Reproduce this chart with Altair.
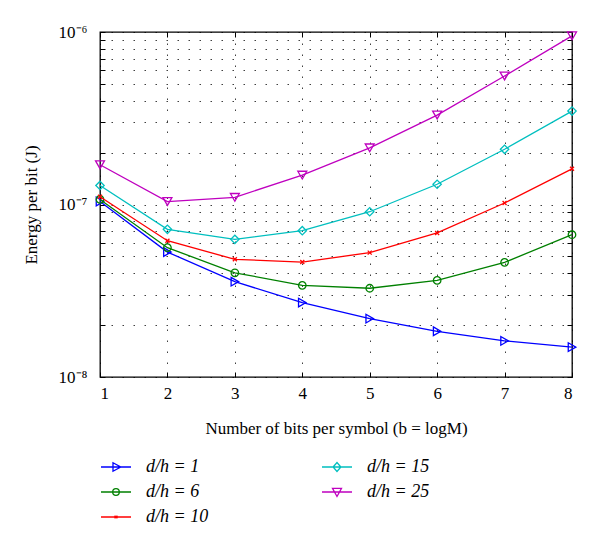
import altair as alt
import pandas as pd

# ---- data ----
bits = [1, 2, 3, 4, 5, 6, 7, 8]
series_names = ["d/h = 1", "d/h = 6", "d/h = 10", "d/h = 15", "d/h = 25"]
e_dh1 = [1.04e-7, 5.30e-8, 3.57e-8, 2.70e-8, 2.18e-8, 1.84e-8, 1.62e-8, 1.49e-8]
e_dh6 = [1.07e-7, 5.62e-8, 4.02e-8, 3.40e-8, 3.27e-8, 3.63e-8, 4.62e-8, 6.68e-8]
e_dh10 = [1.11e-7, 6.17e-8, 4.81e-8, 4.64e-8, 5.26e-8, 6.84e-8, 1.02e-7, 1.61e-7]
e_dh15 = [1.29e-7, 7.18e-8, 6.28e-8, 7.05e-8, 9.08e-8, 1.31e-7, 2.09e-7, 3.48e-7]
e_dh25 = [1.70e-7, 1.04e-7, 1.10e-7, 1.48e-7, 2.13e-7, 3.30e-7, 5.56e-7, 9.50e-7]
y_ticks = [k * 10.0 ** e for e in (-8, -7) for k in range(1, 10)] + [1e-6]

values = [e_dh1, e_dh6, e_dh10, e_dh15, e_dh25]
rows = []
for name, vals in zip(series_names, values):
    for b, v in zip(bits, vals):
        rows.append({"series": name, "bits": b, "energy": v})
df = pd.DataFrame(rows)

# ---- styling ----
FONT = "Liberation Serif"
colors = {
    "d/h = 1": "#0000FF",
    "d/h = 6": "#008000",
    "d/h = 10": "#FF0000",
    "d/h = 15": "#00BFBF",
    "d/h = 25": "#BF00BF",
}
markers = {
    "d/h = 1": ("triangle-right", 75),
    "d/h = 6": ("circle", 56),
    "d/h = 10": ("M-1,-1L1,1M-1,1L1,-1", 16),
    "d/h = 15": ("diamond", 70),
    "d/h = 25": ("triangle-down", 80),
}
legend_paths = {
    "d/h = 1": "M-1,0L1,0M-0.2,-0.28L0.32,0L-0.2,0.28Z",
    "d/h = 6": "M-1,0L1,0M-0.22,0A0.22,0.22 0 1,1 0.22,0A0.22,0.22 0 1,1 -0.22,0Z",
    "d/h = 10": "M-1,0L1,0M-0.09,-0.09L0.09,0.09M-0.09,0.09L0.09,-0.09",
    "d/h = 15": "M-1,0L1,0M-0.26,0L0,-0.3L0.26,0L0,0.3Z",
    "d/h = 25": "M-1,0L1,0M-0.3,-0.24L0.3,-0.24L0,0.3Z",
}
legend_order = series_names  # legend fills column by column

color_scale = alt.Scale(domain=legend_order, range=[colors[s] for s in legend_order])
shape_scale = alt.Scale(domain=legend_order, range=[legend_paths[s] for s in legend_order])
x_scale = alt.Scale(domain=[1, 8], nice=False, zero=False)
y_scale = alt.Scale(type="log", domain=[1e-8, 1e-6], nice=False)

grid_style = dict(gridDash=[1.5, 9.5], gridColor="#000000", gridOpacity=0.75, gridWidth=1)
tick_style = dict(ticks=True, tickSize=5, tickColor="#000000", tickWidth=1, offset=-5, domain=False)

x_main = alt.X(
    "bits:Q",
    scale=x_scale,
    axis=alt.Axis(
        values=bits,
        format="d",
        title="Number of bits per symbol (b = logM)",
        labelPadding=8,
        titlePadding=19,
        **tick_style,
        **grid_style,
    ),
)
y_main = alt.Y(
    "energy:Q",
    scale=y_scale,
    axis=alt.Axis(
        values=y_ticks,
        labelExpr=(
            "abs(datum.value - 1e-6) < 1e-12 ? '10⁻⁶' : "
            "(abs(datum.value - 1e-7) < 1e-13 ? '10⁻⁷' : "
            "(abs(datum.value - 1e-8) < 1e-14 ? '10⁻⁸' : ''))"
        ),
        labelOverlap=False,
        title="Energy per bit (J)",
        labelPadding=13,
        titlePadding=18,
        **tick_style,
        **grid_style,
    ),
)
# inner ticks on the top and right edges of the box
x_top = alt.X(
    "bits:Q", scale=x_scale,
    axis=alt.Axis(orient="top", values=bits, labels=False, title=None, grid=False, **tick_style),
)
y_right = alt.Y(
    "energy:Q", scale=y_scale,
    axis=alt.Axis(orient="right", values=y_ticks, labels=False, title=None, grid=False, **tick_style),
)

base = alt.Chart(df)

layers = []
for i, name in enumerate(series_names):
    shp, sz = markers[name]
    sub = base.transform_filter(alt.datum.series == name)
    xe = x_main if i == 0 else alt.X("bits:Q", scale=x_scale, axis=None)
    ye = y_main if i == 0 else alt.Y("energy:Q", scale=y_scale, axis=None)
    line = sub.mark_line(strokeWidth=1.3, color=colors[name]).encode(x=xe, y=ye)
    pts = sub.mark_point(filled=False, strokeWidth=1.3, opacity=1).encode(
        x=alt.X("bits:Q", scale=x_scale, axis=None),
        y=alt.Y("energy:Q", scale=y_scale, axis=None),
        shape=alt.value(shp),
        size=alt.value(sz),
        color=alt.value(colors[name]),
    )
    layers += [line, pts]

legend_cfg = alt.Legend(
    title=None,
    orient="none",
    legendX=0,
    legendY=419,
    columns=2,
    columnPadding=110,
    rowPadding=-1,
    symbolSize=900,
    symbolStrokeWidth=1.3,
    labelFont=FONT,
    labelFontSize=18,
    labelFontStyle="italic",
    labelOffset=14,
)

legend_layer = (
    base.transform_filter("false")
    .mark_point(filled=False, opacity=1)
    .encode(
        x=x_top,
        y=y_right,
        color=alt.Color("series:N", scale=color_scale, legend=legend_cfg),
        shape=alt.Shape("series:N", scale=shape_scale, legend=legend_cfg),
    )
)

chart = (
    alt.layer(*layers, legend_layer)
    .resolve_axis(x="independent", y="independent")
    .properties(
        width=472,
        height=345,
        background="white",
        autosize=alt.AutoSizeParams(type="none"),
        padding={"left": 92, "top": 24, "right": 20, "bottom": 160},
    )
    .configure_view(stroke="#000000", strokeWidth=1.3)
    .configure_axis(
        labelFont=FONT,
        titleFont=FONT,
        labelFontSize=17,
        titleFontSize=17,
        titleFontWeight="normal",
        labelColor="#000000",
        titleColor="#000000",
    )
    .configure_legend(labelFont=FONT, labelColor="#000000")
)

chart.save("out.html", embed_options={"renderer": "svg", "actions": False})
